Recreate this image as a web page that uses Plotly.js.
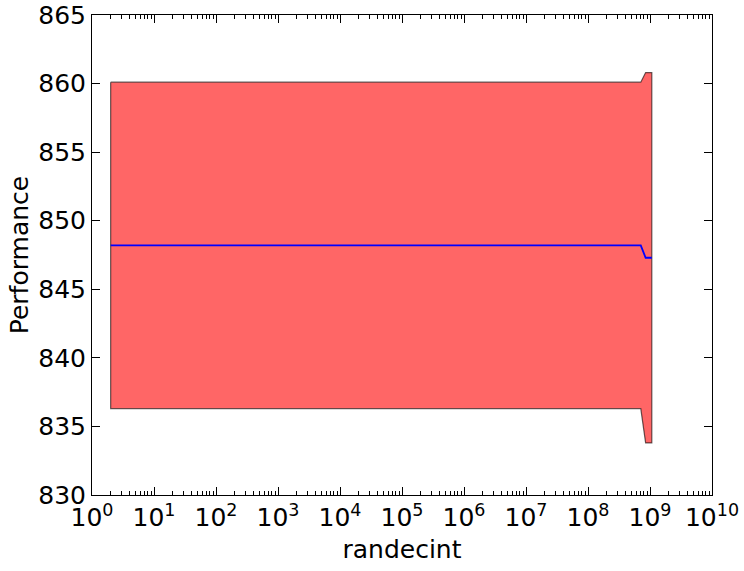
<!DOCTYPE html>
<html>
<head>
<meta charset="utf-8">
<script src="https://cdn.plot.ly/plotly-3.0.1.min.js"></script>
<style>html,body{margin:0;padding:0;background:#fff;}#chart{width:744px;height:571px;}</style>
</head>
<body>
<div id="chart"></div>
<script>
const xValues = [2, 7.1e8, 8.5e8, 1.07e9];
const meanValues = [848.2, 848.2, 847.3, 847.3];
const upperValues = [860.1, 860.1, 860.8, 860.8];
const lowerValues = [836.3, 836.3, 833.8, 833.8];
const xTickVals = [1, 10, 100, 1e3, 1e4, 1e5, 1e6, 1e7, 1e8, 1e9, 1e10];
const xTickText = xTickVals.map((v, i) => '10<sup>' + i + '</sup>');
const yTickVals = [830, 835, 840, 845, 850, 855, 860, 865];

const polyX = xValues.concat(xValues.slice().reverse(), [xValues[0]]);
const polyY = upperValues.concat(lowerValues.slice().reverse(), [upperValues[0]]);

const traces = [
  {x: polyX, y: polyY, type: 'scatter', mode: 'lines', fill: 'toself',
   fillcolor: 'rgba(255,0,0,0.6)', line: {color: 'rgba(0,0,0,0.6)', width: 1.2}, hoverinfo: 'skip'},
  {x: xValues, y: meanValues, type: 'scatter', mode: 'lines', line: {color: '#0000ff', width: 1.8}}
];

const font = {family: 'DejaVu Sans', size: 25, color: '#000'};
const layout = {
  width: 744, height: 571,
  margin: {l: 92, r: 32, t: 15, b: 76},
  paper_bgcolor: '#fff', plot_bgcolor: '#fff',
  showlegend: false,
  font: font,
  xaxis: {
    type: 'log', range: [0, 10], tickvals: xTickVals, ticktext: xTickText,
    ticks: 'inside', ticklen: 8, tickwidth: 1, tickcolor: '#000',
    showline: true, linecolor: '#000', linewidth: 1, mirror: 'ticks',
    showgrid: false, zeroline: false, tickfont: {family: 'DejaVu Sans', size: 25},
    minor: {ticks: 'inside', ticklen: 4, tickcolor: '#000', dtick: 'D1', showgrid: false},
    title: {text: 'randecint', font: {family: 'DejaVu Sans', size: 25}, standoff: 9}
  },
  yaxis: {
    range: [830, 865], tickvals: yTickVals,
    ticks: 'inside', ticklen: 8, tickwidth: 1, tickcolor: '#000',
    showline: true, linecolor: '#000', linewidth: 1, mirror: 'ticks',
    showgrid: false, zeroline: false, tickfont: {family: 'DejaVu Sans', size: 25},
    title: {text: 'Performance', font: {family: 'DejaVu Sans', size: 25}, standoff: 2}
  }
};
Plotly.newPlot('chart', traces, layout, {displayModeBar: false, staticPlot: true});
</script>
</body>
</html>
